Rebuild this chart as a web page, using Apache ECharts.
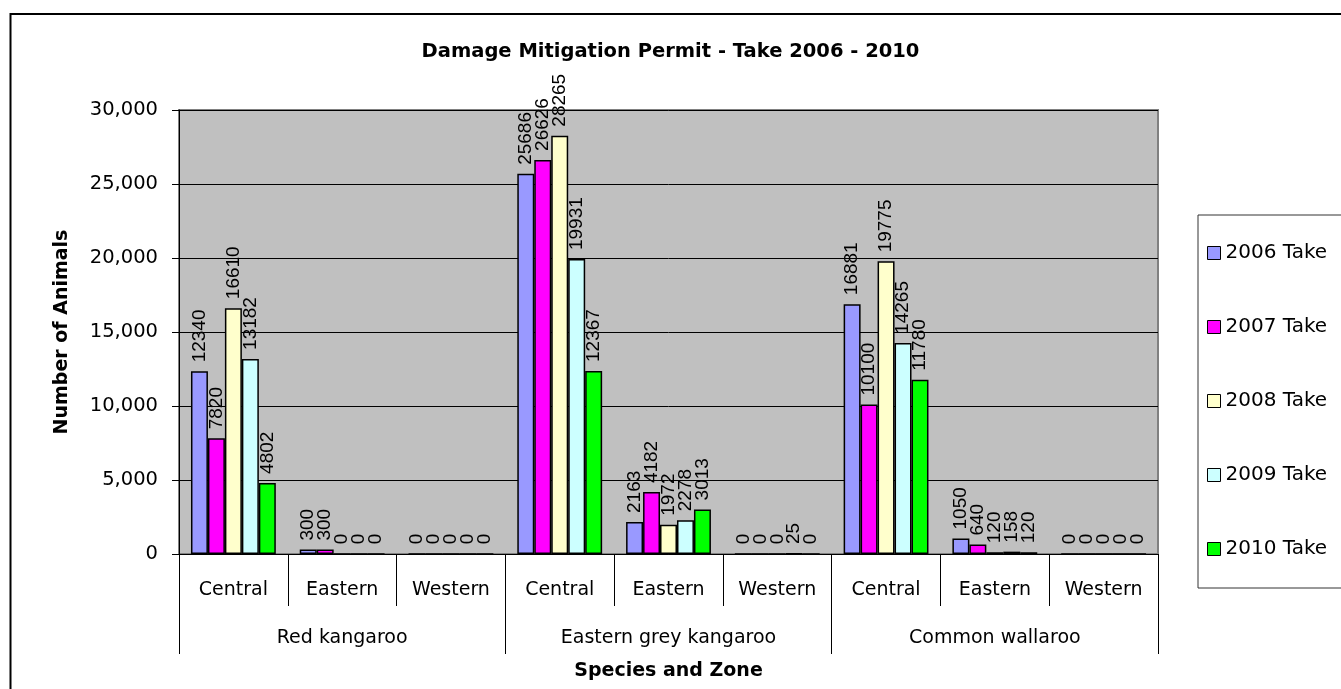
<!DOCTYPE html>
<html>
<head>
<meta charset="utf-8">
<script src="https://cdn.jsdelivr.net/npm/echarts@6/dist/echarts.min.js"></script>
<style>
html,body{margin:0;padding:0;background:#fff;}
#chart{width:1341px;height:689px;}
</style>
</head>
<body>
<div id="chart"></div>
<script>
const zones = ['Central','Eastern','Western','Central','Eastern','Western','Central','Eastern','Western'];
const species = ['Red kangaroo','Eastern grey kangaroo','Common wallaroo'];
const seriesNames = ['2006 Take','2007 Take','2008 Take','2009 Take','2010 Take'];
const take2006 = [12340, 300, 0, 25686, 2163, 0, 16881, 1050, 0];
const take2007 = [7820, 300, 0, 26626, 4182, 0, 10100, 640, 0];
const take2008 = [16610, 0, 0, 28265, 1972, 0, 19775, 120, 0];
const take2009 = [13182, 0, 0, 19931, 2278, 25, 14265, 158, 0];
const take2010 = [4802, 0, 0, 12367, 3013, 0, 11780, 120, 0];
const yTicks = [0, 5000, 10000, 15000, 20000, 25000, 30000];

const values = [take2006, take2007, take2008, take2009, take2010];
const colors = ['#9999FF','#FF00FF','#FFFFCC','#CCFFFF','#00FF00'];
const FONT = 'DejaVu Sans';

const chart = echarts.init(document.getElementById('chart'), null, {renderer:'canvas'});
const option = {
  animation: false,
  backgroundColor: '#ffffff',
  title: {
    text: 'Damage Mitigation Permit - Take 2006 - 2010',
    left: 'center',
    top: 42,
    padding: 0,
    textStyle: {fontFamily: FONT, fontSize: 19.5, fontWeight: 'bold', color: '#000'}
  },
  graphic: [{
    type: 'rect',
    shape: {x: 10.5, y: 14, width: 1400, height: 800},
    style: {fill: null, stroke: '#000', lineWidth: 2},
    silent: true, z: -1
  }],
  legend: {
    orient: 'vertical',
    left: 1198,
    top: 215,
    padding: [28, 40, 29, 9],
    itemGap: 54,
    itemWidth: 13,
    itemHeight: 13,
    icon: 'rect',
    borderColor: '#333',
    borderWidth: 1,
    backgroundColor: '#fff',
    data: seriesNames,
    textStyle: {fontFamily: FONT, fontSize: 20, lineHeight: 20, color: '#000'},
    itemStyle: {borderColor: '#000', borderWidth: 1}
  },
  grid: {
    left: 179, top: 110, right: 183, bottom: 135,
    show: true, backgroundColor: '#C0C0C0', borderColor: '#808080', borderWidth: 2
  },
  xAxis: [{
    type: 'category',
    data: zones,
    position: 'bottom',
    axisLine: {show: true, lineStyle: {color: '#000', width: 1}},
    axisTick: {show: true, length: 52, interval: 0, lineStyle: {color: '#000'}},
    axisLabel: {interval: 0, margin: 27, fontFamily: FONT, fontSize: 19, color: '#000'}
  }, {
    type: 'category',
    data: species,
    position: 'bottom',
    axisLine: {show: false},
    axisTick: {show: true, length: 100, interval: 0, lineStyle: {color: '#000'}},
    axisLabel: {interval: 0, margin: 75, fontFamily: FONT, fontSize: 19, color: '#000'},
    name: 'Species and Zone',
    nameLocation: 'middle',
    nameGap: 108,
    nameTextStyle: {fontFamily: FONT, fontSize: 19, fontWeight: 'bold', color: '#000'}
  }],
  yAxis: {
    type: 'value',
    min: yTicks[0],
    max: yTicks[yTicks.length - 1],
    interval: yTicks[1] - yTicks[0],
    axisLine: {show: true, lineStyle: {color: '#000', width: 1}},
    axisTick: {show: true, length: 7, lineStyle: {color: '#000'}},
    splitLine: {show: true, lineStyle: {color: '#000', width: 1}},
    axisLabel: {
      margin: 21, fontFamily: FONT, fontSize: 19.5, color: '#000',
      formatter: v => v.toLocaleString('en-US')
    },
    name: 'Number of Animals',
    nameLocation: 'middle',
    nameGap: 107,
    nameTextStyle: {fontFamily: FONT, fontSize: 19, fontWeight: 'bold', color: '#000'}
  },
  series: seriesNames.map((name, i) => ({
    name: name,
    type: 'bar',
    xAxisIndex: 0,
    data: values[i],
    barGap: '0%',
    barCategoryGap: '22%',
    itemStyle: {color: colors[i], borderColor: '#000', borderWidth: 1.5},
    label: {
      show: true,
      position: 'top',
      rotate: 90,
      align: 'left',
      verticalAlign: 'middle',
      distance: 9,
      fontFamily: 'Liberation Sans',
      fontSize: 19,
      color: '#000'
    }
  }))
};
chart.setOption(option);
</script>
</body>
</html>
